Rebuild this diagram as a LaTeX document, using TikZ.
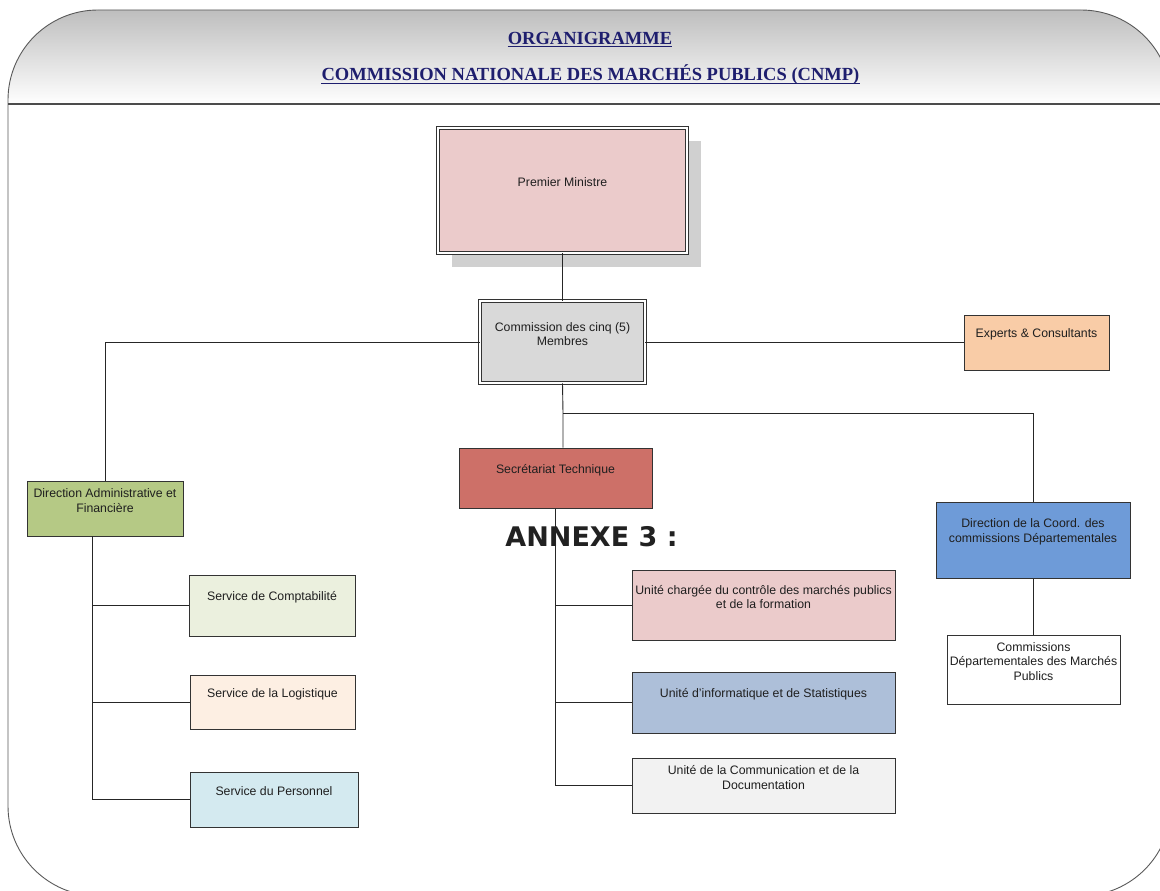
\documentclass[tikz,border=0pt]{standalone}
\usepackage{fontspec}
\setmainfont{Liberation Serif}
\newfontfamily\arialfont{Liberation Sans}
\newfontfamily\annexfont{DejaVu Sans}
\definecolor{navy}{RGB}{30,30,110}
\definecolor{hdtop}{RGB}{190,190,190}
\definecolor{shadowgray}{RGB}{208,208,208}
\definecolor{pmcol}{RGB}{235,203,203}
\definecolor{comcol}{RGB}{217,217,217}
\definecolor{expcol}{RGB}{249,204,167}
\definecolor{seccol}{RGB}{205,112,104}
\definecolor{dafcol}{RGB}{181,201,133}
\definecolor{coordcol}{RGB}{110,155,216}
\definecolor{compcol}{RGB}{235,240,222}
\definecolor{logcol}{RGB}{253,239,227}
\definecolor{perscol}{RGB}{212,234,240}
\definecolor{infocol}{RGB}{173,191,217}
\definecolor{doccol}{RGB}{242,242,242}
\begin{document}
\begin{tikzpicture}[x=1pt,y=-1pt,
    box/.style={draw=black!80, line width=1pt, inner sep=0pt},
    dbox/.style={draw=black!80, line width=0.8pt, double=white, double distance=1.6pt, inner sep=0pt},
    lbl/.style={font=\arialfont\fontsize{12.3}{14.5}\selectfont, align=center, text=black!88},
    conn/.style={draw=black!85, line width=0.9pt},
    ttl/.style={font=\bfseries\fontsize{18.5}{20}\selectfont, text=navy, inner sep=0pt}]
  \useasboundingbox (0,0) rectangle (1160,891);
  \clip (0,0) rectangle (1160,891);
  % frame and header
  \shade[top color=hdtop, bottom color=white] (8,104) [rounded corners=90] -- (8,10) -- (1171,10) [sharp corners] -- (1171,104) -- cycle;
  \draw[black!65, line width=0.9pt, rounded corners=90] (8,10) rectangle (1171,896);
  \draw[black!70, line width=1.4pt] (8,104) -- (1171,104);
  \node[ttl] (org) at (590,38) {ORGANIGRAMME};
  \node[ttl] (cnmp) at (590.5,75) {COMMISSION NATIONALE DES MARCHÉS PUBLICS (CNMP)};
  \draw[navy, line width=1.2pt] ([yshift=-2.5]org.base west) -- ([yshift=-2.5]org.base east);
  \draw[navy, line width=1.2pt] ([yshift=-2.5]cnmp.base west) -- ([yshift=-2.5]cnmp.base east);

  % boxes
  \fill[shadowgray] (452,141) rectangle (701,267);
  \node[dbox, fill=pmcol, minimum width=249, minimum height=125,
    label={[lbl,yshift=8pt]center:{Premier Ministre}}] (pm) at (562.5,190.5) {};
  \node[dbox, fill=comcol, minimum width=165, minimum height=82,
    label={[lbl,yshift=8pt]center:{Commission des cinq (5)\\Membres}}] (com) at (562.5,342) {};
  \node[box, fill=expcol, minimum width=145, minimum height=55,
    label={[lbl,yshift=8pt]center:{Experts \& Consultants}}] (exp) at (1036.5,342.5) {};
  \node[box, fill=seccol, minimum width=193, minimum height=60,
    label={[lbl,yshift=8pt]center:{Secrétariat Technique}}] (sec) at (555.5,478) {};
  \node[box, fill=dafcol, minimum width=156, minimum height=55,
    label={[lbl,yshift=8pt]center:{Direction Administrative et\\Financière}}] (daf) at (105,508.5) {};
  \node[box, fill=coordcol, minimum width=194, minimum height=76,
    label={[lbl,yshift=8pt]center:{Direction de la Coord. des\\commissions Départementales}}] (coord) at (1033,540) {};
  \node[box, fill=white, minimum width=173, minimum height=69,
    label={[lbl,yshift=8pt]center:{Commissions\\Départementales des Marchés\\Publics}}] (cdmp) at (1033.5,669.5) {};
  \node[box, fill=compcol, minimum width=166, minimum height=61,
    label={[lbl,yshift=8pt]center:{Service de Comptabilité}}] (comp) at (272,605.5) {};
  \node[box, fill=logcol, minimum width=165, minimum height=54,
    label={[lbl,yshift=8pt]center:{Service de la Logistique}}] (log) at (272.5,702) {};
  \node[box, fill=perscol, minimum width=168, minimum height=55,
    label={[lbl,yshift=8pt]center:{Service du Personnel}}] (pers) at (274,799.5) {};
  \node[box, fill=pmcol, minimum width=263, minimum height=70,
    label={[lbl,yshift=8pt]center:{Unité chargée du contrôle des marchés publics\\et de la formation}}] (ucmp) at (763.5,605) {};
  \node[box, fill=infocol, minimum width=263, minimum height=61,
    label={[lbl,yshift=8pt]center:{Unité d’informatique et de Statistiques}}] (uis) at (763.5,702.5) {};
  \node[box, fill=doccol, minimum width=263, minimum height=55,
    label={[lbl,yshift=8pt]center:{Unité de la Communication et de la\\Documentation}}] (ucd) at (763.5,785.5) {};

  % connectors
  \coordinate (fork) at (563,413);
  \coordinate (dafbus) at (92,536);
  \draw[conn] (pm) -- (com);
  \draw[conn] (com.west) -| (daf.north);
  \draw[conn] (com.east) -- (com.east -| exp.west);
  \draw[conn] (com.south) -- (fork) -- (fork |- sec.north);
  \draw[conn] (fork) -| (coord.north);
  \draw[conn] (coord.south) -- (coord.south |- cdmp.north);
  \draw[conn] (dafbus) |- (pers.west);
  \draw[conn] (comp.west) -- (comp.west -| dafbus);
  \draw[conn] (log.west) -- (log.west -| dafbus);
  \draw[conn] (sec.south) |- (ucd.west);
  \draw[conn] (ucmp.west) -- (ucmp.west -| sec.south);
  \draw[conn] (uis.west) -- (uis.west -| sec.south);

  \node[font=\annexfont\bfseries\fontsize{27}{30}\selectfont, text=black!87] (annexe) at (591.5,537) {ANNEXE 3 :};
\end{tikzpicture}
\end{document}
